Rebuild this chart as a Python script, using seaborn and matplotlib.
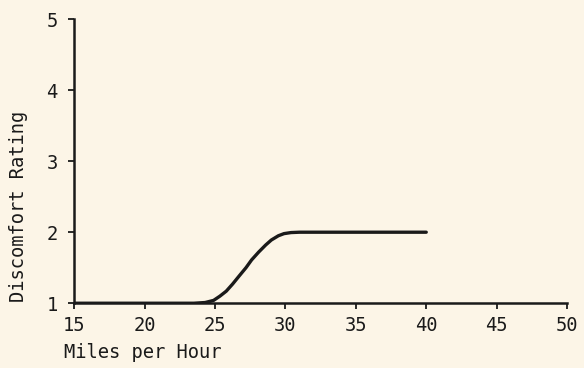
import matplotlib
matplotlib.use("Agg")
import matplotlib.pyplot as plt
import seaborn as sns
import pandas as pd

# Data
mph = [15, 22, 23.5, 24.3, 24.9, 25.35, 25.8, 26.25, 26.7, 27.2, 27.6, 28.1, 28.6, 29.0,
       29.5, 29.9, 30.4, 31, 35, 40]
rating = [1.0, 1.0, 1.0, 1.01, 1.04, 1.10, 1.17, 1.27, 1.38, 1.50, 1.61, 1.72, 1.82, 1.89,
          1.95, 1.98, 1.995, 2.0, 2.0, 2.0]
x_ticks = [15, 20, 25, 30, 35, 40, 45, 50]
y_ticks = [1, 2, 3, 4, 5]

df = pd.DataFrame({"mph": mph, "rating": rating})

sns.set_style("ticks")
bg = "#fcf5e7"
plt.rcParams["font.family"] = ["DejaVu Sans Mono", "DejaVu Sans"]

fig = plt.figure(figsize=(5.84, 3.68), dpi=100, facecolor=bg)
ax = fig.add_axes([0.127, 0.176, 0.844, 0.772])
ax.set_facecolor(bg)

sns.lineplot(data=df, x="mph", y="rating", ax=ax, color="#1a1a1a", linewidth=2.4)

ax.set_xlim(15, 50)
ax.set_ylim(1, 5)
ax.set_xticks(x_ticks)
ax.set_yticks(y_ticks)
ax.tick_params(axis="both", direction="out", length=4, width=1.3, colors="#1a1a1a",
               labelsize=13.5)
ax.tick_params(axis="x", pad=5)
ax.tick_params(axis="y", pad=8)
for s in ["top", "right"]:
    ax.spines[s].set_visible(False)
for s in ["left", "bottom"]:
    ax.spines[s].set_linewidth(1.8)
    ax.spines[s].set_color("#1a1a1a")

ax.set_xlabel("")
ax.set_ylabel("")
fig.text(0.11, 0.043, "Miles per Hour", fontsize=13.5, color="#1a1a1a", ha="left", va="center")
fig.text(0.031, 0.44, "Discomfort Rating", fontsize=13.5, color="#1a1a1a", rotation=90,
         ha="center", va="center")

fig.savefig("out.png", dpi=100, facecolor=bg)
